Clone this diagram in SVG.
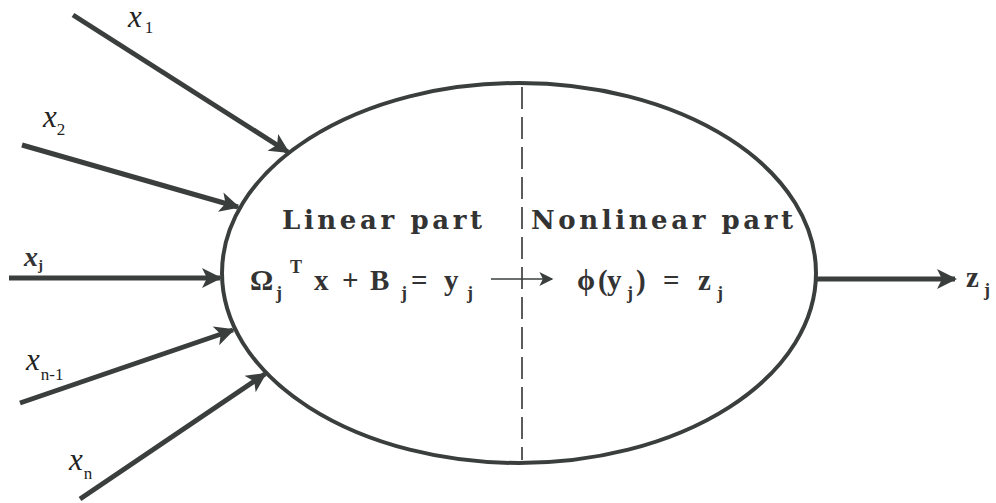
<svg xmlns="http://www.w3.org/2000/svg" width="996" height="503" viewBox="0 0 996 503">
<defs>
<marker id="ah" viewBox="0 0 10 10" refX="9" refY="5" markerWidth="5.5" markerHeight="4" markerUnits="strokeWidth" orient="auto">
<path d="M0,0 L10,5 L0,10 L2.5,5 Z" fill="#3a3f3d"/>
</marker>
<marker id="ahs" viewBox="0 0 10 10" refX="9" refY="5" markerWidth="27" markerHeight="14" markerUnits="userSpaceOnUse" orient="auto">
<path d="M0,0 L10,5 L0,10 L2.5,5 Z" fill="#3a3f3d"/>
</marker>
</defs>
<style>
.in{stroke:#3a3f3d;stroke-width:5;fill:none;marker-end:url(#ah)}
.it{font-family:"Liberation Serif",serif;font-style:italic;font-size:31px;fill:#222}
.sub{font-family:"Liberation Serif",serif;font-style:normal;font-size:17px;fill:#222}
.b{font-family:"DejaVu Serif",serif;font-weight:bold;font-size:26px;fill:#333}
.m{font-family:"Liberation Serif",serif;font-weight:bold;font-size:29px;fill:#333}
.ms{font-family:"Liberation Serif",serif;font-weight:bold;font-size:18px;fill:#333}
</style>
<rect width="996" height="503" fill="#fff"/>
<g id="neuron">
<ellipse cx="519" cy="273" rx="297" ry="190" fill="none" stroke="#3a3f3d" stroke-width="4"/>
<line x1="522" y1="87" x2="522" y2="460" stroke="#333" stroke-width="1.6" stroke-dasharray="22,8"/>
<text class="b" x="282" y="229" textLength="200" lengthAdjust="spacing">Linear part</text>
<text class="b" x="531" y="229" textLength="262" lengthAdjust="spacing">Nonlinear part</text>
<text class="m" x="250" y="290">Ω</text>
<text class="ms" x="276" y="299">j</text>
<text class="ms" x="290" y="273">T</text>
<text class="m" x="314" y="290">x</text>
<text class="m" x="342" y="290">+</text>
<text class="m" x="370" y="290">B</text>
<text class="ms" x="401" y="299">j</text>
<text class="m" x="411" y="290">=</text>
<text class="m" x="444" y="290">y</text>
<text class="ms" x="467" y="299">j</text>
<text class="m" x="577" y="290">ϕ</text>
<text class="m" x="598" y="290">(</text>
<text class="m" x="607" y="290">y</text>
<text class="ms" x="627" y="299">j</text>
<text class="m" x="636" y="290">)</text>
<text class="m" x="663" y="290">=</text>
<text class="m" x="698" y="290">z</text>
<text class="ms" x="717" y="299">j</text>
</g>
<g id="connectors">
<line class="in" x1="73" y1="15" x2="288" y2="152"/>
<line class="in" x1="22" y1="145" x2="238" y2="207"/>
<line class="in" x1="9" y1="278" x2="220" y2="278"/>
<line class="in" x1="20" y1="403" x2="233" y2="330"/>
<line class="in" x1="80" y1="499" x2="265" y2="374"/>
<line class="in" x1="817" y1="279" x2="955" y2="279"/>
<line x1="491" y1="279" x2="552" y2="279" stroke="#3a3f3d" stroke-width="1.5" marker-end="url(#ahs)"/>
</g>
<g id="labels">
<text class="it" x="128" y="27">x<tspan class="sub" dx="3" dy="6">1</tspan></text>
<text class="it" x="43" y="127">x<tspan class="sub" dx="0" dy="8">2</tspan></text>
<text x="24" y="266" font-family="Liberation Serif,serif" font-weight="bold" font-style="italic" font-size="28" fill="#333">x<tspan font-size="15" font-style="normal" dy="4">j</tspan></text>
<text class="it" x="26" y="370">x<tspan class="sub" dx="1" dy="10">n-1</tspan></text>
<text class="it" x="69" y="470">x<tspan class="sub" dx="1" dy="9">n</tspan></text>
<text class="m" x="966" y="287">z</text>
<text class="ms" x="984" y="296">j</text>
</g>
</svg>
